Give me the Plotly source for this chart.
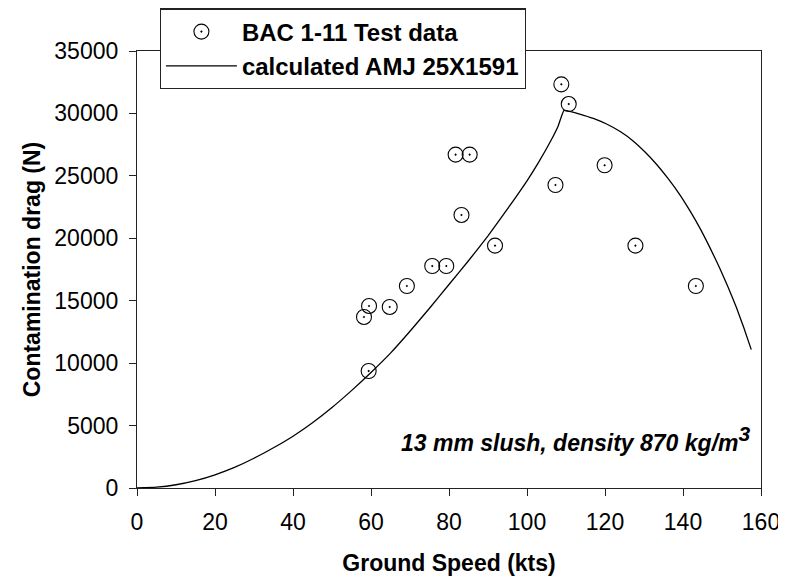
import plotly.graph_objects as go

# Test data (BAC 1-11)
test_speed = [58.2, 59.5, 59.4, 64.8, 69.2, 75.7, 79.3, 81.7, 83.2, 85.3, 91.8,
              107.3, 108.8, 110.7, 119.9, 127.8, 143.3]
test_drag = [13700, 14580, 9370, 14500, 16180, 17780, 17780, 26700, 21870, 26700, 19410,
             24270, 32330, 30750, 25850, 19410, 16180]

# Calculated curve (AMJ 25X1591)
calc_speed = [0, 5, 10, 15, 20, 25, 30, 35, 40, 45, 50, 55, 60, 65, 70, 75, 80, 85, 90,
              95, 100, 103, 106, 108, 109.5, 111.5, 113.5, 117, 120.4, 124, 127.2, 130.2,
              133.2, 136.2, 139.2, 141.8, 144.3, 146.9, 149.4, 151.6, 153.7, 155.6, 157.5]
calc_drag = [0, 65, 260, 590, 1060, 1650, 2380, 3220, 4150, 5230, 6450, 7800, 9250,
             10800, 12550, 14400, 16300, 18200, 20200, 22350, 24600, 26100, 27750, 29000,
             30250, 30120, 29950, 29600, 29150, 28530, 27800, 26930, 25930, 24770, 23480,
             22190, 20830, 19250, 17620, 16050, 14450, 12830, 11080]

x_ticks = [0, 20, 40, 60, 80, 100, 120, 140, 160]
y_ticks = [0, 5000, 10000, 15000, 20000, 25000, 30000, 35000]

FONT = "Liberation Sans, Arial, sans-serif"
AX = "#222222"

fig = go.Figure()
fig.add_trace(go.Scatter(
    x=test_speed, y=test_drag, mode="markers", name="<b>BAC 1-11 Test data</b>",
    marker=dict(symbol="circle-open-dot", size=15, color="black", line=dict(width=1.1, color="black")),
))
fig.add_trace(go.Scatter(
    x=calc_speed, y=calc_drag, mode="lines", name="<b>calculated AMJ 25X1591</b>",
    line=dict(color="black", width=1.3, shape="spline", smoothing=0.4),
))

fig.add_annotation(
    x=157.6, y=3960, xref="x", yref="y", xanchor="right", yanchor="middle",
    text="<b><i>13 mm slush, density 870 kg/m<sup><span style=\"font-size:21px\">3</span></sup></i></b>",
    showarrow=False, font=dict(family=FONT, size=23, color="black"),
)

# page body adds an 8px offset; figure sized to fill the remaining window
fig.update_layout(
    width=778, height=572,
    margin=dict(l=129, r=25, t=43, b=92, autoexpand=False),
    paper_bgcolor="white", plot_bgcolor="white",
    font=dict(family=FONT, size=23, color="black"),
    showlegend=True,
    legend=dict(
        x=0.0364, y=1.0977, xanchor="left", yanchor="top",
        bgcolor="white", bordercolor="#222222", borderwidth=1.2,
        font=dict(family=FONT, size=24, color="black"),
        itemwidth=71, tracegroupgap=0,
    ),
    xaxis=dict(
        range=[0, 160], tickvals=x_ticks, ticktext=[str(v) for v in x_ticks],
        showgrid=False, zeroline=False, showline=True, linecolor=AX, linewidth=1.2,
        mirror=True, ticks="outside", ticklen=7, tickcolor=AX, tickwidth=1.2,
        tickfont=dict(family=FONT, size=23, color="black"), ticklabelstandoff=6,
        title=dict(text="<b>Ground Speed (kts)</b>", font=dict(family=FONT, size=23), standoff=21),
        automargin=False,
    ),
    yaxis=dict(
        range=[0, 35000], tickvals=y_ticks, ticktext=[str(v) for v in y_ticks],
        showgrid=False, zeroline=False, showline=True, linecolor=AX, linewidth=1.2,
        mirror=True, ticks="outside", ticklen=7, tickcolor=AX, tickwidth=1.2,
        tickfont=dict(family=FONT, size=23, color="black"), ticklabelstandoff=6,
        title=dict(text="<b>Contamination drag (N)</b>", font=dict(family=FONT, size=23), standoff=7),
        automargin=False,
    ),
)

fig.write_html("out.html")
